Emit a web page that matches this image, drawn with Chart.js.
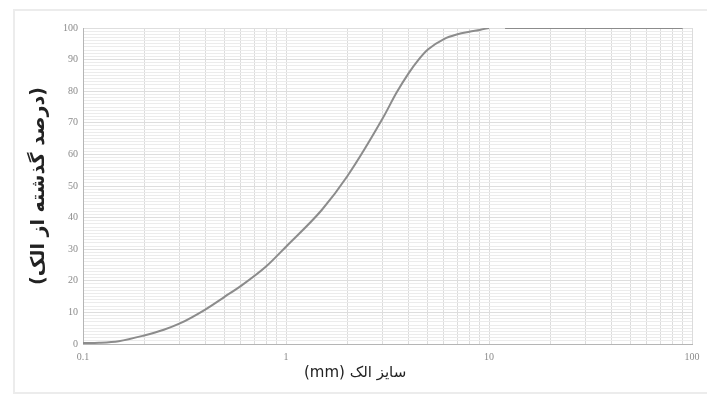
<!DOCTYPE html>
<html>
<head>
<meta charset="utf-8">
<script src="https://cdn.jsdelivr.net/npm/chart.js@4/dist/chart.umd.min.js"></script>
<style>
  html, body { margin: 0; padding: 0; background: #fff; }
  #wrap { position: relative; width: 707px; height: 394px; }
  #frame {
    position: absolute; left: 13px; top: 9px; width: 710px; height: 381px;
    border: 2px solid #ececec; pointer-events: none;
  }
  canvas { position: absolute; left: 0; top: 0; }
</style>
</head>
<body>
<div id="wrap">
  <canvas id="chart" width="707" height="394"></canvas>
  <div id="frame"></div>
</div>
<script>
// sieve sizes (mm) and percent passing
const sizes = [0.1, 0.12, 0.15, 0.2, 0.25, 0.3, 0.4, 0.5, 0.6, 0.8, 1, 1.5, 2, 3, 3.5, 4, 4.5, 5, 6, 7, 8, 9, 10, 11, 12, 90];
const passing = [0.3, 0.4, 0.9, 2.7, 4.5, 6.5, 10.9, 15, 18.4, 24.6, 30.8, 42.4, 53, 71.5, 79.5, 85.5, 90, 93.2, 96.5, 98, 98.8, 99.4, 100, null, 100, 100];

// gridline positions on the log axis
const xTicks = [0.1, 0.2, 0.3, 0.4, 0.5, 0.6, 0.7, 0.8, 0.9,
                1, 2, 3, 4, 5, 6, 7, 8, 9,
                10, 20, 30, 40, 50, 60, 70, 80, 90, 100];
const xLabels = [0.1, 1, 10, 100];

// trailing spaces push the centred title a little to the left, like the original
const xTitle = "\u202Bسایز الک (mm)\u202C" + "\u2003\u2003\u2003\u2003\u00A0";
const yTitle = "\u202B(درصد گذشته از الک)\u202C";

const tickFont = { family: "'Liberation Serif', 'Times New Roman', serif", size: 10 };

let chart;

function initChart() {
  const ctx = document.getElementById("chart");

  chart = new Chart(ctx, {
    type: 'line',
    data: {
      datasets: [{
        data: sizes.map((s, i) => ({ x: s, y: passing[i] })),
        borderColor: '#8c8c8c',
        borderWidth: 2,
        pointRadius: 0,
        cubicInterpolationMode: 'monotone',
        spanGaps: false,
        fill: false
      }]
    },
    options: {
      responsive: false,
      animation: false,
      layout: { padding: { left: 28, right: 15, top: 28, bottom: 10 } },
      plugins: { legend: { display: false }, tooltip: { enabled: false } },
      scales: {
        x: {
          type: 'logarithmic',
          min: 0.1,
          max: 100,
          afterBuildTicks: (s) => { s.ticks = xTicks.map(v => ({ value: v })); },
          afterFit: (s) => { s.height = 40; },
          border: { color: '#b5b5b5' },
          grid: { color: '#dcdcdc', drawTicks: false },
          ticks: {
            autoSkip: false,
            maxRotation: 0,
            padding: 7,
            color: '#8a8a8a',
            font: tickFont,
            callback: (v) => xLabels.includes(v) ? String(v) : ''
          },
          title: {
            display: true,
            text: xTitle,
            color: '#222',
            font: { family: "'DejaVu Sans', sans-serif", size: 15 },
            padding: { top: 0, bottom: 2 }
          }
        },
        y: {
          min: 0,
          max: 100,
          afterFit: (s) => { s.width = 55; },
          border: { color: '#b5b5b5' },
          grid: {
            color: (c) => c.tick && c.tick.value % 10 === 0 ? '#dedede' : '#ececec',
            drawTicks: false
          },
          ticks: {
            stepSize: 1,
            autoSkip: false,
            padding: 5,
            color: '#8a8a8a',
            font: tickFont,
            callback: (v) => v % 10 === 0 ? String(v) : ''
          },
          title: {
            display: true,
            text: yTitle,
            color: '#222',
            font: { family: "'DejaVu Sans', sans-serif", size: 19, weight: 'bold' },
            padding: { top: 0, bottom: 0 }
          }
        }
      }
    }
  });
}

window.onload = () => {
  initChart();
};
</script>
</body>
</html>
